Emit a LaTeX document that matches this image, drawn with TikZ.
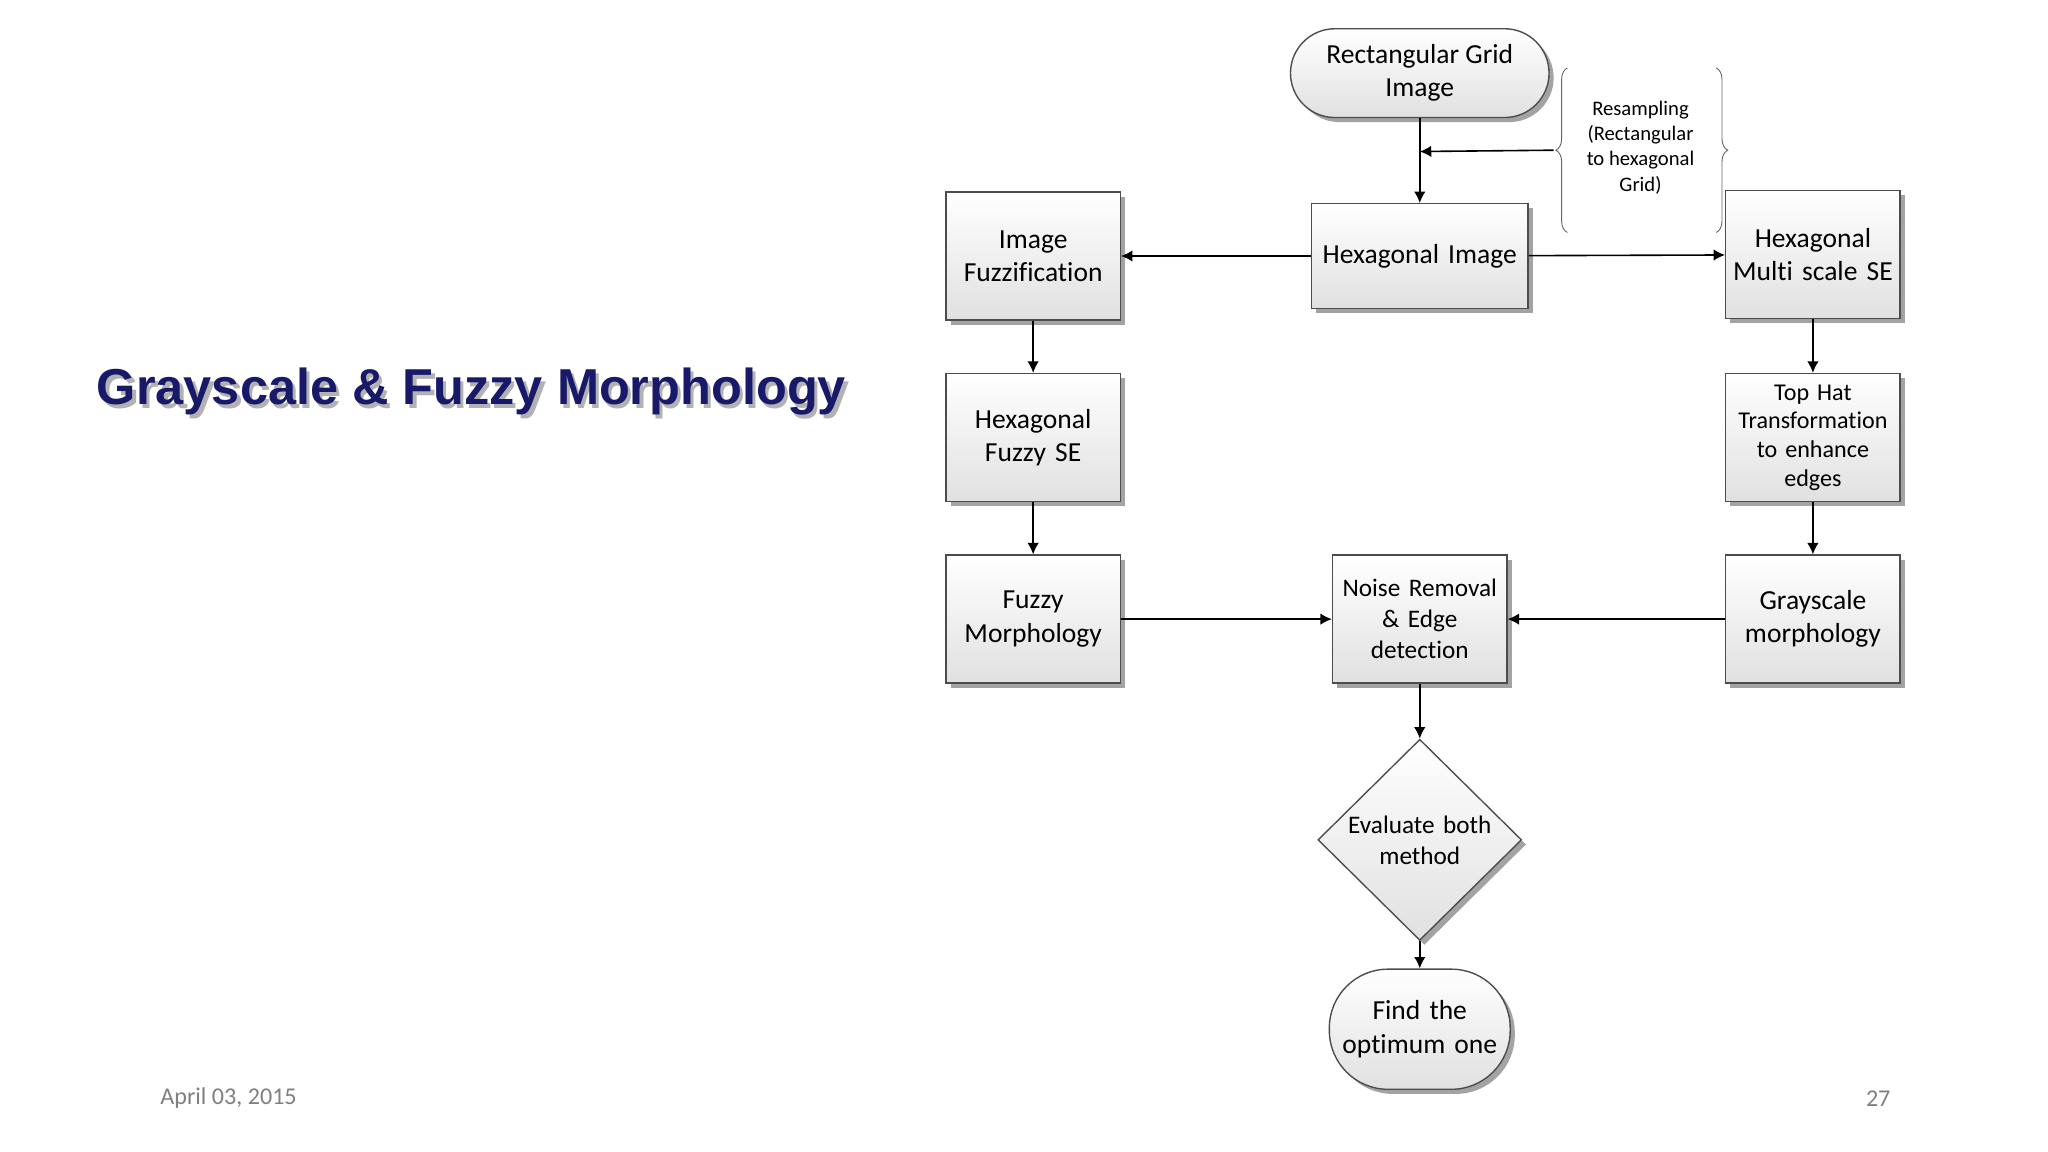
\documentclass[tikz,border=0pt]{standalone}
\usepackage{fontspec}
\setmainfont{Carlito}[Ligatures=NoCommon]
\newfontfamily\titlefont{Liberation Sans}
\usetikzlibrary{shapes.geometric,shadows,decorations.pathreplacing,arrows.meta}
\begin{document}
\begin{tikzpicture}[x=0.02cm,y=-0.02cm,
  base/.style={draw=black!70,line width=0.6pt,top color=white,bottom color=black!12,
    drop shadow={shadow xshift=2pt,shadow yshift=-2pt,fill=black!45,opacity=0.8},
    align=center,font=\fontsize{12}{14.5}\selectfont,inner sep=1pt},
  box/.style={base,minimum width=2.64cm,minimum height=1.96cm,text width=2.6cm},
  term/.style={base,rounded corners=0.65cm},
  arr/.style={-{Latex[length=5pt,width=5pt]},line width=0.7pt},
  ttl/.style={font=\titlefont\bfseries\fontsize{22}{26}\selectfont,anchor=west}]
\useasboundingbox (0,0) rectangle (1568,882);
\fill[white] (0,0) rectangle (1568,882);
\node[ttl,text=black!30] at (70.5,302.5) {Grayscale \& Fuzzy Morphology};
\node[ttl,text=blue!35!black!90] (title) at (68,300) {Grayscale \& Fuzzy Morphology};
\node[term,minimum width=3.96cm,minimum height=1.36cm,rounded corners=0.68cm] (rg) at (1087,56) {Rectangular Grid\\Image};
\node[box,minimum width=3.3cm,minimum height=1.6cm,text width=3.25cm] (hi) at (1087,196) {Hexagonal Image};
\node[box] (if) at (791,196) {Image\\Fuzzification};
\node[box] (hm) at (1388,195) {Hexagonal\\Multi scale SE};
\node[box,font=\fontsize{10.5}{12.5}\selectfont] (th) at (1388,335) {Top Hat\\Transformation\\to enhance\\edges};
\node[box] (hf) at (791,335) {Hexagonal\\Fuzzy SE};
\node[box] (fm) at (791,474) {Fuzzy\\Morphology};
\node[box,font=\fontsize{11}{13.5}\selectfont] (nr) at (1087,474) {Noise Removal\\\& Edge\\detection};
\node[box] (gm) at (1388,474) {Grayscale\\morphology};
\node[base,diamond,minimum width=3.12cm,minimum height=3.08cm,inner sep=0pt,text width=2.3cm,font=\fontsize{11}{13.5}\selectfont] (ev) at (1087,643) {Evaluate both\\method};
\node[term,minimum width=2.72cm,minimum height=1.84cm,rounded corners=0.9cm,text width=2.7cm] (op) at (1087,788) {Find the\\optimum one};
\node[align=center,font=\fontsize{9}{11}\selectfont] (rs) at (1256,113) {Resampling\\(Rectangular\\to hexagonal\\Grid)};
\draw[black!60,decorate,decoration={brace,amplitude=5pt}] (1200,178) -- (1200,52) coordinate[pos=0.5,xshift=-6pt] (bt);
\draw[black!60,decorate,decoration={brace,amplitude=5pt}] (1314,52) -- (1314,178);
\draw[arr] (rg) -- (hi);
\draw[arr] (bt) -- (1087,116);
\draw[arr] (hi) -- (if);
\draw[arr] (hi) -- (hm);
\draw[arr] (if) -- (hf);
\draw[arr] (hf) -- (fm);
\draw[arr] (hm) -- (th);
\draw[arr] (th) -- (gm);
\draw[arr] (fm) -- (nr);
\draw[arr] (gm) -- (nr);
\draw[arr] (nr) -- (ev);
\draw[arr] (ev) -- (op);
\node[text=black!50,font=\fontsize{10.5}{12}\selectfont] (dt) at (175,841) {April 03, 2015};
\node[text=black!50,font=\fontsize{10.5}{12}\selectfont] (pg) at (1438,841) {27};
\end{tikzpicture}
\end{document}
